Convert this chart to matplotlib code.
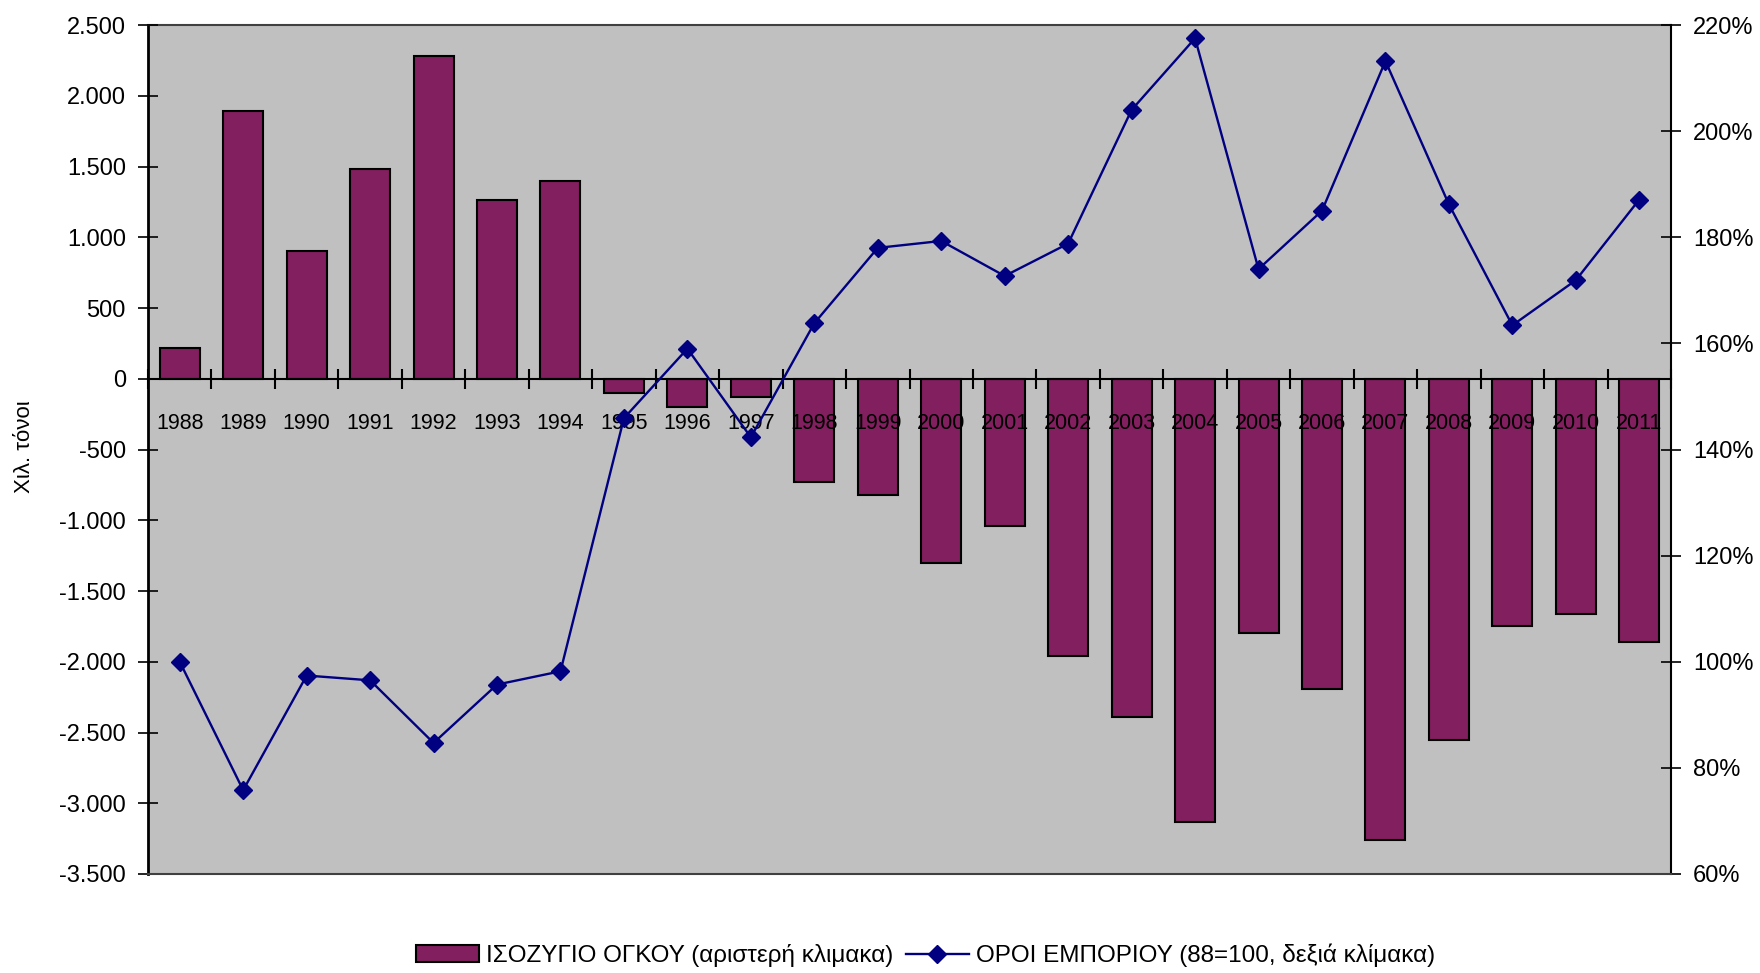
import matplotlib
matplotlib.use("Agg")
import matplotlib.pyplot as plt
from matplotlib.ticker import FixedLocator, FuncFormatter, NullFormatter
import numpy as np

years = ["1988", "1989", "1990", "1991", "1992", "1993", "1994", "1995", "1996", "1997",
         "1998", "1999", "2000", "2001", "2002", "2003", "2004", "2005", "2006", "2007",
         "2008", "2009", "2010", "2011"]
balance = [220, 1890, 900, 1480, 2280, 1260, 1400, -100, -200, -130,
           -730, -820, -1300, -1040, -1960, -2390, -3130, -1800, -2190, -3260,
           -2555, -1750, -1665, -1860]
terms = [100.0, 75.8, 97.4, 96.5, 84.7, 95.7, 98.2, 145.9, 159.0, 142.3,
         163.8, 178.0, 179.3, 172.7, 178.8, 204.0, 217.5, 174.0, 185.0, 213.2,
         186.2, 163.4, 171.9, 187.1]
left_ticks = [2500, 2000, 1500, 1000, 500, 0, -500, -1000, -1500, -2000, -2500, -3000, -3500]
right_ticks = [60, 80, 100, 120, 140, 160, 180, 200, 220]
label_bar = "ΙΣΟΖΥΓΙΟ ΟΓΚΟΥ (αριστερή κλιμακα)"
label_line = "ΟΡΟΙ ΕΜΠΟΡΙΟΥ (88=100, δεξιά κλίμακα)"
ylabel = "Χιλ. τόνοι"

plt.rcParams['font.family'] = ['Liberation Sans', 'DejaVu Sans']

bar_color = "#821F5E"
line_color = "#000080"
bg = "#C0C0C0"

fig = plt.figure(figsize=(17.6, 9.73), dpi=100)
ax = fig.add_axes([148/1760, 1-874/973, 1523/1760, 849/973])
ax.set_facecolor(bg)
x = np.arange(len(years))
ax.bar(x, balance, width=0.63, color=bar_color, edgecolor="black", linewidth=1.5,
       label=label_bar, zorder=2)
ax.set_xlim(-0.5, len(years) - 0.5)
ax.set_ylim(-3500, 2500)
ax.yaxis.set_major_locator(FixedLocator(left_ticks))
ax.yaxis.set_major_formatter(FuncFormatter(lambda v, p: f"{v:,.0f}".replace(",", ".")))
ax.tick_params(axis='y', direction='inout', length=14, width=1.2, labelsize=17, pad=9)

ax.spines['bottom'].set_position(('data', 0))
ax.spines['bottom'].set_linewidth(1.5)
ax.spines['bottom'].set_zorder(3)
ax.spines['left'].set_linewidth(2)
ax.spines['top'].set_color('#404040')
ax.spines['top'].set_linewidth(1.5)
ax.spines['right'].set_visible(False)

ax.xaxis.set_major_locator(FixedLocator(np.arange(-0.5, len(years) + 0.5, 1.0)))
ax.xaxis.set_major_formatter(NullFormatter())
ax.xaxis.set_minor_locator(FixedLocator(x))
ax.xaxis.set_minor_formatter(FuncFormatter(lambda v, p: years[int(round(v))]))
ax.tick_params(axis='x', which='major', direction='inout', length=14, width=1.5)
ax.tick_params(axis='x', which='minor', length=0, labelsize=15.5, pad=25)
ax.set_axisbelow(False)

ax2 = ax.twinx()
ax2.plot(x, terms, color=line_color, linewidth=1.7, marker='D', markersize=9,
         markerfacecolor=line_color, markeredgecolor=line_color, label=label_line, zorder=4)
ax2.set_ylim(60, 220)
ax2.yaxis.set_major_locator(FixedLocator(right_ticks))
ax2.yaxis.set_major_formatter(FuncFormatter(lambda v, p: f"{v:.0f}%"))
ax2.tick_params(axis='y', direction='inout', length=14, width=1.2, labelsize=17, pad=9)
ax2.spines['right'].set_linewidth(1.5)
ax2.spines['bottom'].set_color('#404040')
ax2.spines['bottom'].set_linewidth(1.5)
ax2.spines['top'].set_visible(False)
ax2.spines['left'].set_visible(False)

fig.text(25/1760, 1-447/973, ylabel, rotation=90, ha='center', va='center', fontsize=16)

h1, l1 = ax.get_legend_handles_labels()
h2, l2 = ax2.get_legend_handles_labels()
fig.legend(h1 + h2, l1 + l2, loc='center', bbox_to_anchor=(0.526, 0.018), ncol=2,
           frameon=False, fontsize=17.5, handlelength=2.6, handletextpad=0.3,
           columnspacing=0.5, borderaxespad=0)

fig.savefig("out.png", dpi=100)
